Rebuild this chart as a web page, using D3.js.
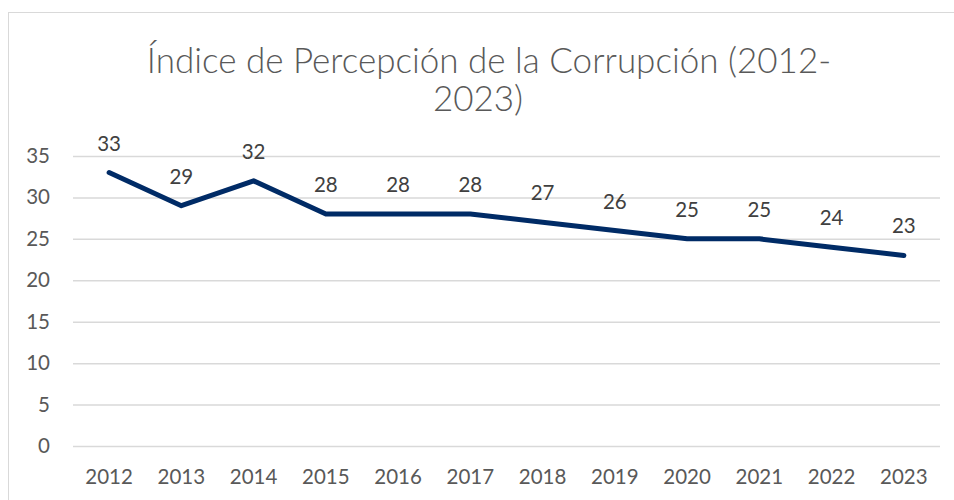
<!DOCTYPE html>
<html><head><meta charset="utf-8">
<script src="https://cdn.jsdelivr.net/npm/d3@7"></script>
<style>body{margin:0;background:#fff;}svg{display:block;font-family:Lato,"Open Sans",sans-serif;}</style>
</head><body>
<svg id="c" width="954" height="500"></svg>
<script>
const years = ["2012","2013","2014","2015","2016","2017","2018","2019","2020","2021","2022","2023"];
const values = [33,29,32,28,28,28,27,26,25,25,24,23];
const yTicks = [0,5,10,15,20,25,30,35];
const titleLines = ["Índice de Percepción de la Corrupción (2012-","2023)"];

const svg = d3.select("#c");
const m = {left:73, right:940, top:156, bottom:446};
svg.append("rect").attr("x",8.5).attr("y",12.5).attr("width",960).attr("height",520)
  .attr("fill","#fff").attr("stroke","#d9d9d9").attr("stroke-width",1);

const x = d3.scaleBand().domain(years).range([m.left,m.right]);
const y = d3.scaleLinear().domain([0,35]).range([m.bottom,m.top]);

const yAxis = d3.axisLeft(y).tickValues(yTicks).tickSize(-(m.right-m.left)).tickPadding(23);
const gy = svg.append("g").attr("transform",`translate(${m.left},0)`).call(yAxis);
gy.select(".domain").remove();
gy.selectAll(".tick line").attr("stroke","#d9d9d9").attr("stroke-width",1.5);
gy.selectAll(".tick text").attr("fill","#595959").style("font-size","20.5px").style("font-family","Lato, sans-serif");

const xAxis = d3.axisBottom(x).tickSize(0).tickPadding(23);
const gx = svg.append("g").attr("transform",`translate(0,${m.bottom})`).call(xAxis);
gx.select(".domain").remove();
gx.selectAll(".tick text").attr("fill","#595959").style("font-size","20.5px").style("font-family","Lato, sans-serif");

const line = d3.line().x((d,i)=>x(years[i])+x.bandwidth()/2).y(d=>y(d));
svg.append("path").datum(values).attr("d",line).attr("fill","none")
  .attr("stroke","#002b66").attr("stroke-width",5).attr("stroke-linejoin","round").attr("stroke-linecap","round");

svg.append("g").selectAll("text").data(values).join("text")
  .attr("x",(d,i)=>x(years[i])+x.bandwidth()/2)
  .attr("y",d=>y(d)-22)
  .attr("text-anchor","middle").attr("fill","#404040")
  .style("font-size","20.5px").text(d=>d);

const t = svg.append("g").attr("fill","#595959").style("font-size","35px").style("font-weight","300");
t.append("text").attr("x",489).attr("y",73).attr("text-anchor","middle").text(titleLines[0]);
t.append("text").attr("x",478).attr("y",111).attr("text-anchor","middle").text(titleLines[1]);
</script>
</body></html>
